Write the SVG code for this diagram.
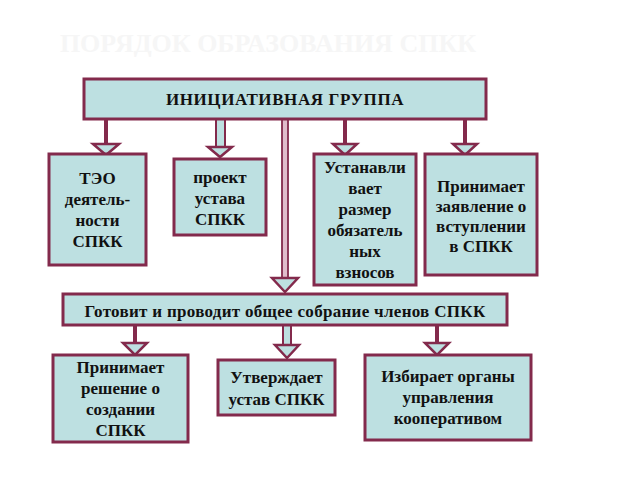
<svg xmlns="http://www.w3.org/2000/svg" width="640" height="480" viewBox="0 0 640 480">
<style>
.box{fill:#bde0e1;stroke:#832a4c;stroke-width:3}
.t{font-family:'Liberation Serif','DejaVu Serif',serif;font-weight:bold;font-size:17px;fill:#111;text-anchor:middle}
.sh{fill:#832a4c}
.dsh{fill:#bde0e1;stroke:#832a4c;stroke-width:2}
.hd{fill:#bde0e1;stroke:#832a4c;stroke-width:2.5;stroke-linejoin:miter}
.title{font-family:'Liberation Serif','DejaVu Serif',serif;font-weight:bold;font-size:26px;fill:#f6f6f6;text-anchor:middle}
</style>
<rect width="640" height="480" fill="#ffffff"/>
<text class="title" x="268" y="52">ПОРЯДОК ОБРАЗОВАНИЯ СПКК</text>
<g id="connectors">
  <rect class="sh" x="104" y="119" width="4" height="26"/>
  <polygon class="hd" points="93,144 119,144 106,155"/>
  <rect class="dsh" x="216" y="119" width="9" height="29"/>
  <polygon class="hd" points="208,147 232,147 220,157"/>
  <rect x="282" y="119" width="6" height="160" fill="#e0bccb" stroke="#832a4c" stroke-width="1.8"/>
  <polygon class="hd" points="272,278 298,278 285,292"/>
  <rect class="sh" x="343" y="119" width="4" height="26"/>
  <polygon class="hd" points="333,144 357,144 345,155"/>
  <rect class="sh" x="463" y="119" width="4" height="26"/>
  <polygon class="hd" points="453,144 477,144 465,155"/>
  <rect class="sh" x="133" y="325" width="4" height="19"/>
  <polygon class="hd" points="123,343 147,343 135,355"/>
  <rect class="dsh" x="283" y="325" width="8" height="21"/>
  <polygon class="hd" points="275,345 299,345 287,358"/>
  <rect class="sh" x="435" y="325" width="4" height="19"/>
  <polygon class="hd" points="425,343 449,343 437,355"/>
</g>
<g id="init">
  <rect class="box" x="84" y="79" width="402" height="40"/>
  <text class="t" x="285" y="105" letter-spacing="0.6">ИНИЦИАТИВНАЯ ГРУППА</text>
</g>
<g id="teo">
  <rect class="box" x="49" y="154" width="97" height="111"/>
  <text class="t" x="97.5" y="184">ТЭО</text>
  <text class="t" x="97.5" y="205">деятель-</text>
  <text class="t" x="97.5" y="226">ности</text>
  <text class="t" x="97.5" y="247">СПКК</text>
</g>
<g id="proekt">
  <rect class="box" x="174" y="159" width="92" height="76"/>
  <text class="t" x="220" y="183">проект</text>
  <text class="t" x="220" y="204">устава</text>
  <text class="t" x="220" y="225">СПКК</text>
</g>
<g id="ustanavl">
  <rect class="box" x="314" y="154" width="102" height="131"/>
  <text class="t" x="365" y="173">Устанавли</text>
  <text class="t" x="365" y="194">вает</text>
  <text class="t" x="365" y="215">размер</text>
  <text class="t" x="365" y="236">обязатель</text>
  <text class="t" x="365" y="257">ных</text>
  <text class="t" x="365" y="278">взносов</text>
</g>
<g id="prinim1">
  <rect class="box" x="425" y="154" width="112" height="121"/>
  <text class="t" x="481" y="192">Принимает</text>
  <text class="t" x="481" y="212">заявление о</text>
  <text class="t" x="481" y="232">вступлении</text>
  <text class="t" x="481" y="252">в СПКК</text>
</g>
<g id="gotovit">
  <rect class="box" x="63" y="294" width="444" height="31"/>
  <text class="t" x="285" y="317" letter-spacing="0.3">Готовит и проводит общее собрание членов СПКК</text>
</g>
<g id="prinim2">
  <rect class="box" x="53" y="355" width="135" height="87"/>
  <text class="t" x="120.5" y="373">Принимает</text>
  <text class="t" x="120.5" y="394">решение о</text>
  <text class="t" x="120.5" y="415">создании</text>
  <text class="t" x="120.5" y="436">СПКК</text>
</g>
<g id="utverzh">
  <rect class="box" x="218" y="360" width="117" height="55"/>
  <text class="t" x="276.5" y="383">Утверждает</text>
  <text class="t" x="276.5" y="405">устав СПКК</text>
</g>
<g id="izbir">
  <rect class="box" x="365" y="355" width="166" height="85"/>
  <text class="t" x="448" y="382">Избирает органы</text>
  <text class="t" x="448" y="403">управления</text>
  <text class="t" x="448" y="424">кооперативом</text>
</g>
</svg>
